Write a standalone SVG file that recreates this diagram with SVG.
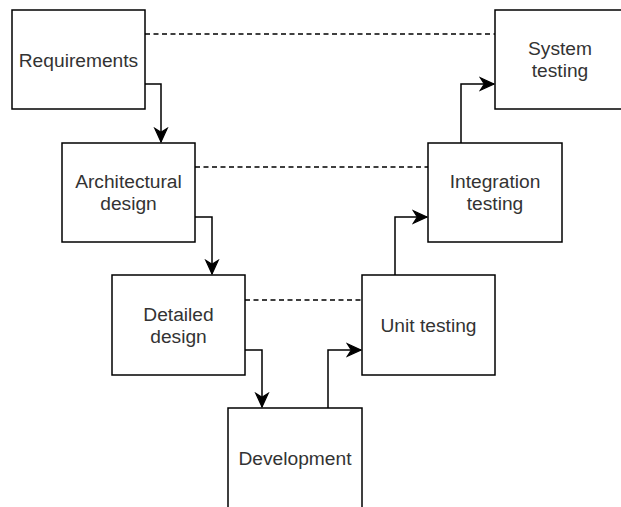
<svg xmlns="http://www.w3.org/2000/svg" width="621" height="507" viewBox="0 0 621 507">
  <style>
    .box { fill: #ffffff; stroke: #000000; stroke-width: 1.5; }
    .lbl { font-family: "Liberation Sans", Arial, sans-serif; font-size: 19.2px; fill: #333333; text-anchor: middle; }
    .flow { fill: none; stroke: #000000; stroke-width: 1.5; marker-end: url(#arrow); }
    .dash { fill: none; stroke: #000000; stroke-width: 1.5; stroke-dasharray: 5 3.5; }
  </style>
  <defs>
    <marker id="arrow" markerUnits="userSpaceOnUse" markerWidth="16" markerHeight="16" viewBox="-13 -7 14 14" refX="0" refY="0" orient="auto">
      <path d="M0,0 L-12,-5.5 L-8.5,0 L-12,5.5 Z" fill="#000000" stroke="#000000" stroke-width="1"/>
    </marker>
  </defs>
  <rect width="621" height="507" fill="#ffffff"/>

  <g id="connectors">
    <path class="dash" d="M145,34 H495"/>
    <path class="dash" d="M195,167 H428"/>
    <path class="dash" d="M245,300 H362"/>
    <path class="flow" d="M145,84 H161 V142"/>
    <path class="flow" d="M195,217 H212 V274"/>
    <path class="flow" d="M245,350 H262 V407"/>
    <path class="flow" d="M328,408 V350 H361"/>
    <path class="flow" d="M395,275 V217 H427"/>
    <path class="flow" d="M461,143 V84 H494"/>
  </g>

  <g id="requirements">
    <rect class="box" x="12" y="10" width="133" height="99"/>
    <text class="lbl" x="78.5" y="66.5">Requirements</text>
  </g>
  <g id="architectural-design">
    <rect class="box" x="62" y="143" width="133" height="99"/>
    <text class="lbl" x="128.5" y="188">Architectural</text>
    <text class="lbl" x="128.5" y="210">design</text>
  </g>
  <g id="detailed-design">
    <rect class="box" x="112" y="275" width="133" height="100"/>
    <text class="lbl" x="178.5" y="320.5">Detailed</text>
    <text class="lbl" x="178.5" y="342.5">design</text>
  </g>
  <g id="development">
    <rect class="box" x="228" y="408" width="134" height="102"/>
    <text class="lbl" x="295" y="465">Development</text>
  </g>
  <g id="unit-testing">
    <rect class="box" x="362" y="275" width="133" height="100"/>
    <text class="lbl" x="428.5" y="332">Unit testing</text>
  </g>
  <g id="integration-testing">
    <rect class="box" x="428" y="143" width="134" height="99"/>
    <text class="lbl" x="495" y="188">Integration</text>
    <text class="lbl" x="495" y="210">testing</text>
  </g>
  <g id="system-testing">
    <rect class="box" x="495" y="10" width="134" height="99"/>
    <text class="lbl" x="560" y="55">System</text>
    <text class="lbl" x="560" y="77">testing</text>
  </g>
</svg>
